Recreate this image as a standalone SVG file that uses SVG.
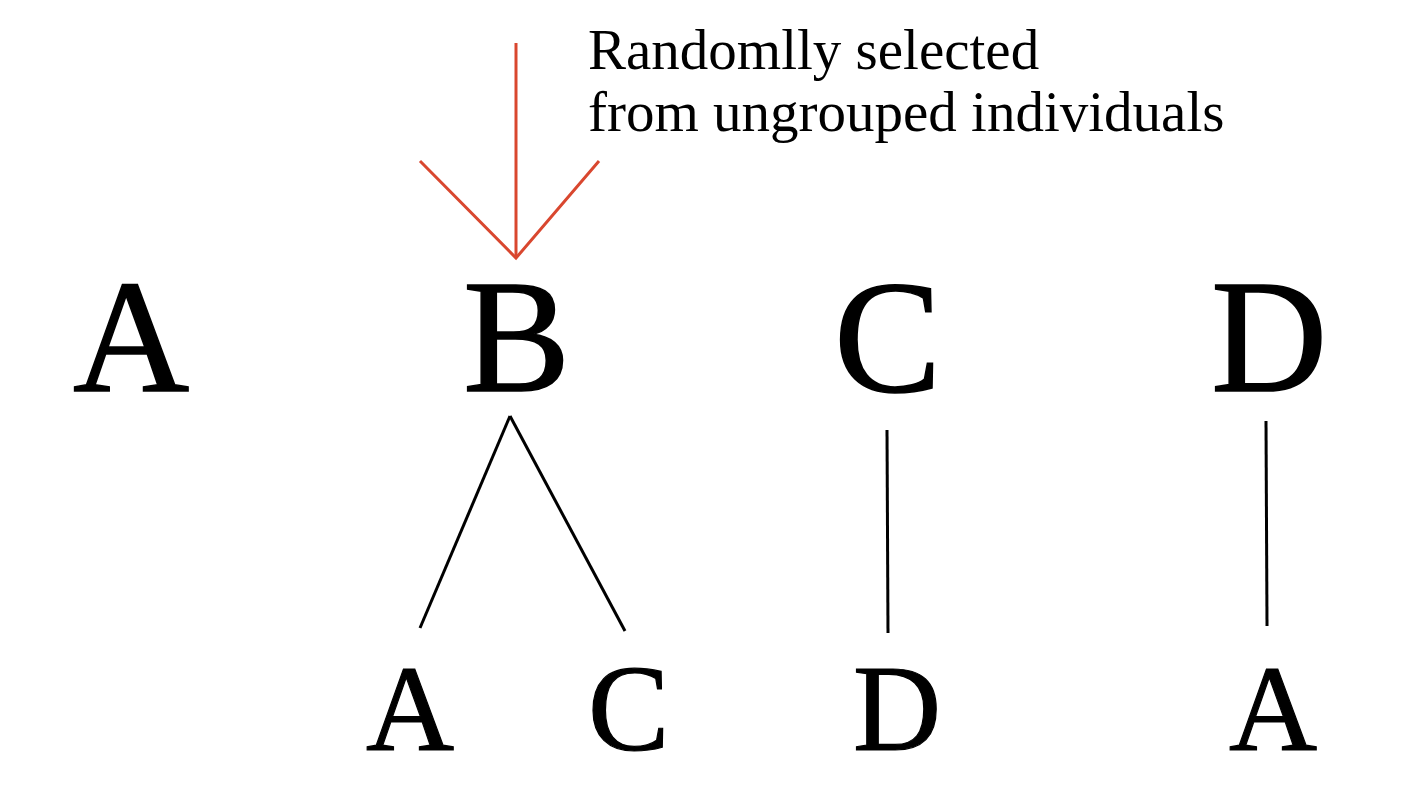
<svg xmlns="http://www.w3.org/2000/svg" width="1404" height="800" viewBox="0 0 1404 800">
<style>
.big{font-family:"Liberation Serif","Times New Roman",serif;font-size:161px;fill:#000;stroke:#000;stroke-width:1.5}
.small{font-family:"Liberation Serif","Times New Roman",serif;font-size:122px;fill:#000;stroke:#000;stroke-width:1.2}
.note{font-family:"Liberation Serif","Times New Roman",serif;font-size:57px;fill:#000}
.link{stroke:#000;stroke-width:3;fill:none}
.sel{stroke:#d9472f;stroke-width:3;fill:none}
</style>
<rect width="1404" height="800" fill="#fff"/>
<g id="connectors">
<line class="link" x1="510" y1="416" x2="420" y2="628"/>
<line class="link" x1="510" y1="416" x2="625" y2="631"/>
<line class="link" x1="887" y1="430" x2="888" y2="633"/>
<line class="link" x1="1266" y1="421" x2="1267" y2="626"/>
</g>
<g id="selection-arrow">
<line class="sel" x1="516" y1="43" x2="516" y2="258"/>
<polyline class="sel" points="420,161 516,258 599,161"/>
</g>
<g id="note"><text class="note" x="588" y="69">Randomlly selected</text><text class="note" x="588" y="131">from ungrouped individuals</text></g>
<g id="node-A"><text class="big" x="73" y="391">A</text></g>
<g id="node-B"><text class="big" x="463" y="391">B</text></g>
<g id="node-C"><text class="big" x="834" y="391">C</text></g>
<g id="node-D"><text class="big" x="1211" y="391">D</text></g>
<g id="node-B-A"><text class="small" x="366" y="750">A</text></g>
<g id="node-B-C"><text class="small" x="588" y="750">C</text></g>
<g id="node-C-D"><text class="small" x="853" y="750">D</text></g>
<g id="node-D-A"><text class="small" x="1229" y="750">A</text></g>
</svg>
